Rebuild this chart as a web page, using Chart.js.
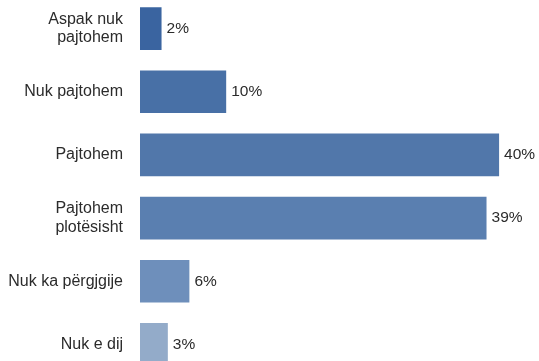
<!DOCTYPE html>
<html>
<head>
<meta charset="utf-8">
<script src="https://cdn.jsdelivr.net/npm/chart.js@4"></script>
<style>
  html, body { margin: 0; padding: 0; background: #fff; overflow: hidden; }
  #wrap { position: absolute; left: 0; top: -3px; width: 539px; height: 379px; }
</style>
</head>
<body>
<div id="wrap"><canvas id="barchart"></canvas></div>
<script>
var categories = [
  ["Aspak nuk", "pajtohem"],
  "Nuk pajtohem",
  "Pajtohem",
  ["Pajtohem", "plotësisht"],
  "Nuk ka përgjgije",
  "Nuk e dij"
];
var shares = [2.4, 9.6, 40.0, 38.6, 5.5, 3.1];
var barColors = ["#3a64a0", "#4870a6", "#5177aa", "#5a7fb0", "#6e8fbb", "#93abc9"];

// value labels at the end of each bar
var valueLabels = {
  id: "valueLabels",
  afterDatasetsDraw: function (chart) {
    var ctx = chart.ctx;
    var meta = chart.getDatasetMeta(0);
    ctx.save();
    ctx.font = "15.5px 'Liberation Sans', Arial, sans-serif";
    ctx.fillStyle = "#2b2b2b";
    ctx.textAlign = "left";
    ctx.textBaseline = "middle";
    meta.data.forEach(function (bar, i) {
      ctx.fillText(Math.round(shares[i]) + "%", bar.x + 5, bar.y);
    });
    ctx.restore();
  }
};

new Chart("barchart", {
  type: "bar",
  data: {
    labels: categories,
    datasets: [{
      data: shares,
      backgroundColor: barColors,
      borderWidth: 0,
      barPercentage: 0.675,
      categoryPercentage: 1
    }]
  },
  options: {
    indexAxis: "y",
    responsive: true,
    maintainAspectRatio: false,
    animation: false,
    layout: { padding: { left: 0, right: 4, top: 0, bottom: 0 } },
    plugins: {
      legend: { display: false },
      tooltip: { enabled: false },
      title: { display: false }
    },
    scales: {
      x: { display: false, min: 0, max: 44 },
      y: {
        grid: { display: false, drawTicks: false },
        border: { display: false },
        ticks: {
          padding: 17,
          color: "#2b2b2b",
          font: { family: "'Liberation Sans', Arial, sans-serif", size: 16, lineHeight: 1.13 }
        },
        afterFit: function (scale) {
          scale.width = 140;
          scale.paddingTop = 0;
          scale.paddingBottom = 0;
        }
      }
    }
  },
  plugins: [valueLabels]
});
</script>
</body>
</html>
